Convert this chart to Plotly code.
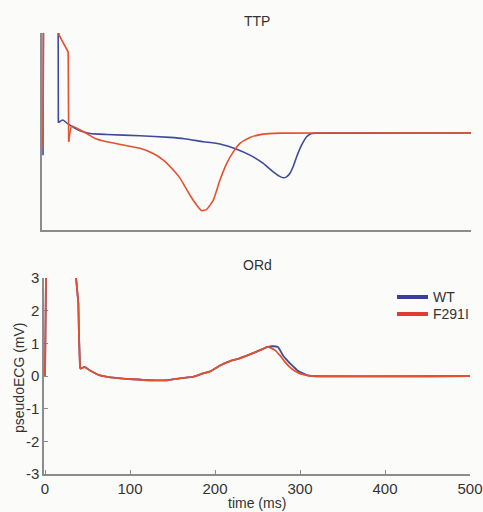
import plotly.graph_objects as go

# ---- TTP (top panel), arbitrary units, baseline 0 ----
ttp_wt_t = [0, 0.8, 17.5, 17.9, 23, 29.2, 43.2, 54.9, 74.4, 113.3, 148, 165, 187.2, 206.7, 226.2, 241.8, 257.3, 269, 276, 280.7, 284.5, 288.5, 292.5, 296.3, 302.2, 308, 313.8, 320, 500]
ttp_wt_v = [-0.67, 6, 6, 0.32, 0.40, 0.28, 0.07, -0.01, -0.04, -0.08, -0.13, -0.17, -0.26, -0.33, -0.49, -0.67, -0.92, -1.18, -1.31, -1.36, -1.33, -1.22, -1.00, -0.72, -0.36, -0.11, -0.01, 0, 0]

ttp_mut_t = [0, 0.8, 17.8, 18.7, 29.4, 30.0, 33.5, 39.4, 51, 60.7, 74.4, 93.8, 113.3, 128.8, 140.5, 152.2, 160, 171.7, 179.5, 185.4, 191.2, 198.9, 206.7, 214.6, 222.3, 230.1, 241.8, 257.3, 276.8, 500]
ttp_mut_v = [-0.43, 6, 6, 2.99, 2.47, -0.26, 0.22, 0.15, -0.01, -0.16, -0.26, -0.36, -0.46, -0.62, -0.82, -1.12, -1.37, -1.89, -2.19, -2.36, -2.32, -2.04, -1.43, -0.92, -0.57, -0.31, -0.13, -0.03, 0, 0]

# ---- ORd (bottom panel), pseudoECG (mV) ----
ord_wt_t = [0, 1.5, 36, 36.5, 37.6, 39.2, 40, 40.3, 41.2, 43.5, 46.2, 52.9, 64.7, 80, 103.5, 123.5, 143.5, 158.8, 175, 185, 195, 206, 217, 229, 241, 253, 262, 268, 274, 280, 286, 291.6, 297, 303.4, 308, 314, 500]
ord_wt_v = [0, 4, 4, 3.0, 2.7, 2.22, 1.19, 0.48, 0.23, 0.24, 0.28, 0.17, 0.02, -0.05, -0.10, -0.13, -0.13, -0.07, -0.02, 0.07, 0.15, 0.32, 0.45, 0.54, 0.66, 0.79, 0.89, 0.91, 0.89, 0.63, 0.45, 0.30, 0.17, 0.08, 0.03, 0, 0]

ord_mut_t = [0, 1.5, 36, 36.5, 37.6, 39.2, 40, 40.3, 41.2, 43.5, 46.2, 52.9, 64.7, 80, 103.5, 123.5, 143.5, 158.8, 175, 185, 195, 206, 217, 229, 241, 253, 262, 270, 276.4, 282, 288, 294, 300, 308, 315, 500]
ord_mut_v = [0, 4, 4, 3.0, 2.7, 2.22, 1.19, 0.48, 0.23, 0.24, 0.28, 0.17, 0.02, -0.05, -0.10, -0.13, -0.13, -0.07, -0.02, 0.07, 0.15, 0.32, 0.45, 0.54, 0.66, 0.79, 0.89, 0.80, 0.63, 0.44, 0.27, 0.15, 0.07, 0.02, 0, 0]

# index where the sharp stimulus/upstroke part ends and the smooth part begins
ttp_wt_split = 3
ttp_mut_split = 5
ord_split = 8

x_ticks = [0, 100, 200, 300, 400, 500]
y_ticks = [-3, -2, -1, 0, 1, 2, 3]
series_names = ["WT", "F291I"]

BLUE = "#3E4A9E"
RED = "#E5502E"
LEG_BLUE = "#3B3F9C"
LEG_RED = "#DE3B33"
AXIS = "#8C8C8C"
TXT = "#333333"
BG = "#FBFBF9"
FONT = "Liberation Sans, Arial, sans-serif"

W, H = 483, 512

fig = go.Figure()

def add_series(t, v, split, color, width, xa, ya, name):
    # sharp part: straight segments
    fig.add_trace(go.Scatter(x=t[:split + 1], y=v[:split + 1], mode="lines",
                             line=dict(color=color, width=width),
                             xaxis=xa, yaxis=ya, showlegend=False, name=name))
    # smooth part: spline
    fig.add_trace(go.Scatter(x=t[split:], y=v[split:], mode="lines",
                             line=dict(color=color, width=width, shape="spline", smoothing=0.5),
                             xaxis=xa, yaxis=ya, showlegend=False, name=name))

add_series(ttp_wt_t, ttp_wt_v, ttp_wt_split, BLUE, 1.6, "x", "y", series_names[0])
add_series(ttp_mut_t, ttp_mut_v, ttp_mut_split, RED, 1.6, "x", "y", series_names[1])
add_series(ord_wt_t, ord_wt_v, ord_split, BLUE, 1.8, "x2", "y2", series_names[0])
add_series(ord_mut_t, ord_mut_v, ord_split, RED, 1.8, "x2", "y2", series_names[1])

def px_x(p):
    return p / W

def px_y(p):
    return 1 - p / H

common_axis = dict(showgrid=False, zeroline=False, showline=True, linecolor=AXIS, linewidth=1.5,
                   mirror=False, fixedrange=True, automargin=False, layer="below traces")

# manual legend (top right of lower panel)
shapes = []
annotations = []
for name, col, yy in [(series_names[0], LEG_BLUE, 297), (series_names[1], LEG_RED, 314)]:
    shapes.append(dict(type="line", xref="paper", yref="paper",
                       x0=px_x(397), x1=px_x(428), y0=px_y(yy), y1=px_y(yy),
                       line=dict(color=col, width=4)))
    annotations.append(dict(text=name, x=px_x(431), y=px_y(yy), xref="paper", yref="paper",
                            showarrow=False, xanchor="left", yanchor="middle",
                            font=dict(size=14, color=TXT)))

annotations += [
    dict(text="TTP", x=px_x(257), y=px_y(21), xref="paper", yref="paper",
         showarrow=False, font=dict(size=14, color=TXT), xanchor="center", yanchor="middle"),
    dict(text="ORd", x=px_x(257), y=px_y(265), xref="paper", yref="paper",
         showarrow=False, font=dict(size=14, color=TXT), xanchor="center", yanchor="middle"),
    dict(text="time (ms)", x=px_x(257), y=px_y(503), xref="paper", yref="paper",
         showarrow=False, font=dict(size=14, color=TXT), xanchor="center", yanchor="middle"),
    dict(text="pseudoECG (mV)", x=px_x(19), y=px_y(378), xref="paper", yref="paper",
         showarrow=False, textangle=-90, font=dict(size=14, color=TXT),
         xanchor="center", yanchor="middle"),
]

fig.update_layout(
    width=W, height=H,
    margin=dict(l=0, r=0, t=0, b=0, pad=0, autoexpand=False),
    paper_bgcolor=BG, plot_bgcolor=BG,
    font=dict(family=FONT, size=14, color=TXT),
    showlegend=False,
    xaxis=dict(domain=[px_x(42), px_x(471)], range=[-1.2, 500], anchor="y",
               showticklabels=False, ticks="", **common_axis),
    yaxis=dict(domain=[px_y(230), px_y(33)], range=[-2.95, 3.05], anchor="x",
               showticklabels=False, ticks="", **common_axis),
    xaxis2=dict(domain=[px_x(44), px_x(470)], range=[-1.2, 500], anchor="y2",
                tickvals=x_ticks, ticktext=[str(v) for v in x_ticks],
                ticks="inside", ticklen=4, tickcolor=AXIS,
                tickfont=dict(size=15, color=TXT), **common_axis),
    yaxis2=dict(domain=[px_y(474), px_y(278)], range=[-3, 3], anchor="x2",
                tickvals=y_ticks, ticktext=[str(v) for v in y_ticks],
                ticks="inside", ticklen=4, tickcolor=AXIS,
                tickfont=dict(size=15, color=TXT), **common_axis),
    shapes=shapes,
    annotations=annotations,
)

fig.write_html("out.html", config={"displayModeBar": False},
               post_script="document.body.style.margin='0';document.body.style.background='" + BG + "';")
